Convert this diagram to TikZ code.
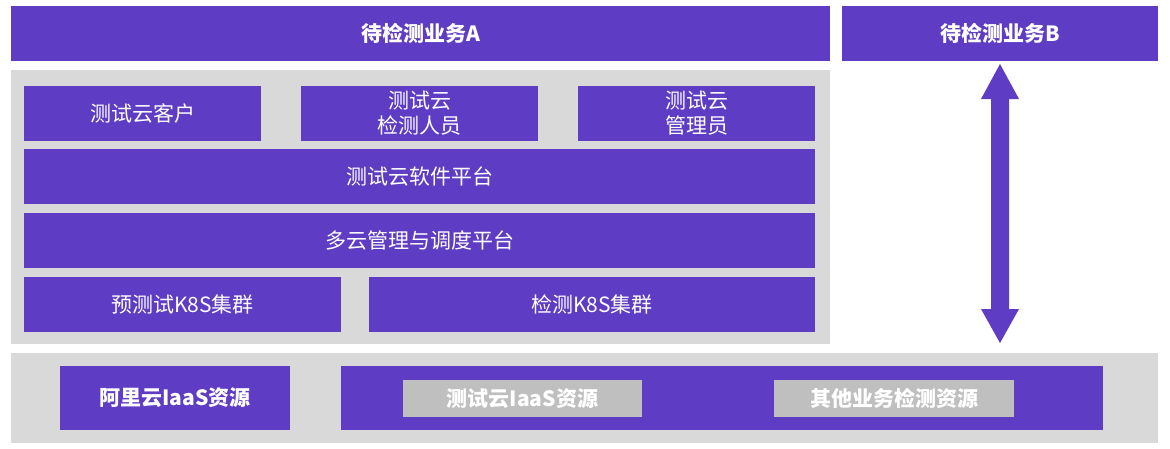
\documentclass[tikz,border=0pt]{standalone}
\usepackage{fontspec}
\setmainfont{Noto Sans CJK SC}
\definecolor{pur}{RGB}{94,60,196}
\definecolor{panel}{RGB}{217,217,217}
\definecolor{inner}{RGB}{191,191,191}
\tikzset{
  pbox/.style={fill=pur, draw=none, text=white, font=\fontsize{21}{25}\selectfont, align=center, inner sep=0pt},
  tbox/.style={pbox, font=\bfseries\fontsize{21}{25}\selectfont},
  gbox/.style={fill=inner, draw=none, text=white, font=\bfseries\fontsize{21}{25}\selectfont, inner sep=0pt},
}
\begin{document}
\begin{tikzpicture}[x=1pt,y=-1pt]
\useasboundingbox (0,0) rectangle (1170,448);
% top
\fill[pur] (11,6) rectangle (830,61);
\node[tbox] (a) at (420.5,33.5) {待检测业务A};
\fill[pur] (842,6) rectangle (1158,61);
\node[tbox] (b) at (1000,33.5) {待检测业务B};
% panel
\fill[panel] (11,70) rectangle (830,344);
\fill[pur] (24,86) rectangle (261,141);
\node[pbox] (c1) at (142.5,113.5) {测试云客户};
\fill[pur] (301,86) rectangle (538,141);
\node[pbox] (c2) at (419.5,113.5) {测试云\\检测人员};
\fill[pur] (578,86) rectangle (815,141);
\node[pbox] (c3) at (696.5,113.5) {测试云\\管理员};
\fill[pur] (24,149) rectangle (815,204);
\node[pbox] (sw) at (419.5,176.5) {测试云软件平台};
\fill[pur] (24,213) rectangle (815,268);
\node[pbox] (mc) at (419.5,240.5) {多云管理与调度平台};
\fill[pur] (24,277) rectangle (341,332);
\node[pbox] (k1) at (182.5,304.5) {预测试K8S集群};
\fill[pur] (369,277) rectangle (815,332);
\node[pbox] (k2) at (592,304.5) {检测K8S集群};
% bottom
\fill[panel] (11,353) rectangle (1158,443);
\fill[pur] (60,366) rectangle (290,430);
\node[tbox] (ali) at (175,398) {阿里云IaaS资源};
\fill[pur] (341,366) rectangle (1103,430);
\fill[inner] (403,380) rectangle (642,417);
\node[gbox] (ti) at (522.5,398.5) {测试云IaaS资源};
\fill[inner] (774,380) rectangle (1014,417);
\node[gbox] (ot) at (894,398.5) {其他业务检测资源};
% arrow
\fill[pur] (1000,64) -- (1019,99) -- (1009,99) -- (1009,309) -- (1019,309) -- (1000,343) -- (981,309) -- (991,309) -- (991,99) -- (981,99) -- cycle;
\end{tikzpicture}
\end{document}
